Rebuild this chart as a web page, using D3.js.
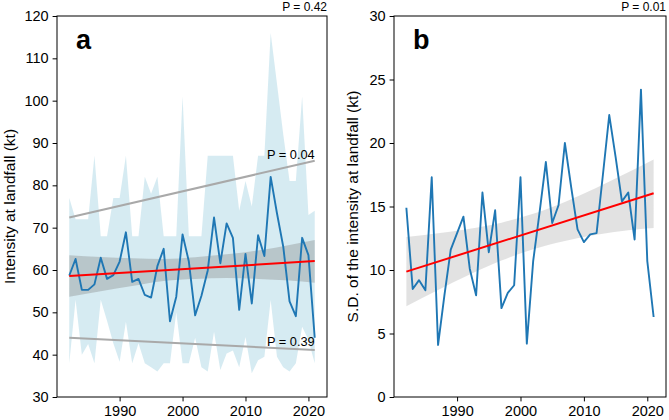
<!DOCTYPE html>
<html>
<head>
<meta charset="utf-8">
<script src="https://cdn.jsdelivr.net/npm/d3@7"></script>
<style>
  body { margin: 0; background: #fff; }
  svg { font-family: "Liberation Sans", Arial, sans-serif; }
  .tick text { font-size: 14.5px; fill: #000; }
  .tick line { stroke: #000; stroke-width: 1; }
</style>
</head>
<body>
<div id="wrapper"></div>
<script>
// 1. Data
const years = [1982, 1983, 1984, 1985, 1986, 1987, 1988, 1989, 1990, 1991,
  1992, 1993, 1994, 1995, 1996, 1997, 1998, 1999, 2000, 2001,
  2002, 2003, 2004, 2005, 2006, 2007, 2008, 2009, 2010, 2011,
  2012, 2013, 2014, 2015, 2016, 2017, 2018, 2019, 2020, 2021]

// panel a: mean intensity at landfall, and the min / max envelope
const meanIntensity = [58.7, 62.6, 55.3, 55.3, 56.6, 62.9, 57.9, 58.8, 62.0, 68.9,
  57.2, 57.9, 54.1, 53.5, 60.9, 65.0, 47.9, 53.7, 68.4, 62.0,
  49.3, 53.9, 59.9, 72.4, 61.6, 71.0, 67.6, 50.6, 63.8, 52.1,
  68.2, 63.3, 82.0, 73.4, 65.5, 52.6, 49.1, 67.6, 63.5, 44.0]
const maxIntensity = [77, 72, 72, 72, 87, 68, 68, 77, 77, 87,
  68, 68, 82, 78, 82, 68, 68, 68, 101, 68,
  68, 68, 87, 87, 87, 87, 87, 74, 81, 75,
  87, 87, 116, 104, 92, 81, 81, 101, 73, 74]
const minIntensity = [38, 53, 40, 42.5, 38, 53, 48, 42.7, 38.3, 47.8,
  38, 42.7, 38, 37, 36, 38, 38, 50, 38, 38,
  44, 37, 36, 45.4, 36.4, 40.3, 41, 37, 44.2, 35.6,
  38.7, 39.5, 52.9, 39.5, 37, 36, 38, 46.6, 43.5, 38]

// panel b: standard deviation of intensity at landfall
const sdIntensity = [14.9, 8.5, 9.2, 8.4, 17.3, 4.1, 8.0, 11.6, 12.9, 14.2,
  10.1, 8.0, 16.1, 11.4, 14.7, 7.0, 8.2, 8.8, 17.3, 4.2,
  10.7, 14.5, 18.5, 13.7, 15.1, 20.0, 16.5, 13.2, 12.2, 12.8,
  12.9, 17.5, 22.2, 18.9, 15.4, 16.1, 12.4, 24.2, 10.7, 6.3]

// trend lines (start, end)
const trendYears = [1982, 2021]
const trendMeanA = [58.6, 62.1]
const trendMaxA = [72.4, 85.8]
const trendMinA = [44.0, 41.1]
const trendSdB = [9.87, 16.04]

// confidence band around the red trend lines
const ciYears = [1982, 1987, 1992, 1997, 2002, 2007, 2012, 2017, 2021]
const ciLowA = [53.7, 55.0, 56.2, 57.4, 57.9, 58.1, 57.9, 57.5, 57.0]
const ciHighA = [63.5, 63.1, 62.8, 62.6, 63.0, 63.7, 64.6, 65.9, 67.1]
const ciLowB = [7.15, 8.43, 9.65, 10.75, 11.64, 12.29, 12.77, 13.13, 13.30]
const ciHighB = [12.59, 12.89, 13.25, 13.73, 14.42, 15.35, 16.47, 17.69, 18.70]

const xTicks = [1990, 2000, 2010, 2020]
const yTicksA = [30, 40, 50, 60, 70, 80, 90, 100, 110, 120]
const yTicksB = [0, 5, 10, 15, 20, 25, 30]

function drawCharts() {
  // 2. Dimensions
  const width = 669
  const height = 420
  const panelA = { left: 57, top: 16, width: 270, height: 381 }
  const panelB = { left: 394, top: 16, width: 272, height: 381 }

  // 3. Canvas
  const svg = d3.select("#wrapper").append("svg")
    .attr("width", width)
    .attr("height", height)

  const xDomain = [1980.05, 2022.95]

  // ---------- panel a ----------
  const boundsA = svg.append("g")
    .attr("transform", `translate(${panelA.left}, ${panelA.top})`)

  const xScaleA = d3.scaleLinear().domain(xDomain).range([0, panelA.width])
  const yScaleA = d3.scaleLinear().domain([30, 120]).range([panelA.height, 0])

  const envelope = d3.area()
    .x((d, i) => xScaleA(years[i]))
    .y0((d, i) => yScaleA(minIntensity[i]))
    .y1((d, i) => yScaleA(maxIntensity[i]))
  boundsA.append("path")
    .attr("d", envelope(years))
    .attr("fill", "#add8e6")
    .attr("fill-opacity", 0.5)

  const trendLineA = d3.line()
    .x((d, i) => xScaleA(trendYears[i]))
    .y(d => yScaleA(d))
  boundsA.append("path")
    .attr("d", trendLineA(trendMaxA))
    .attr("fill", "none")
    .attr("stroke", "#a9a9a9")
    .attr("stroke-width", 2)
  boundsA.append("path")
    .attr("d", trendLineA(trendMinA))
    .attr("fill", "none")
    .attr("stroke", "#a9a9a9")
    .attr("stroke-width", 2)

  const ciAreaA = d3.area()
    .x((d, i) => xScaleA(ciYears[i]))
    .y0((d, i) => yScaleA(ciLowA[i]))
    .y1((d, i) => yScaleA(ciHighA[i]))
    .curve(d3.curveMonotoneX)
  boundsA.append("path")
    .attr("d", ciAreaA(ciYears))
    .attr("fill", "#808080")
    .attr("fill-opacity", 0.35)

  const meanLine = d3.line()
    .x((d, i) => xScaleA(years[i]))
    .y(d => yScaleA(d))
  boundsA.append("path")
    .attr("d", meanLine(meanIntensity))
    .attr("fill", "none")
    .attr("stroke", "#1f77b4")
    .attr("stroke-width", 1.9)
    .attr("stroke-linejoin", "round")

  boundsA.append("path")
    .attr("d", trendLineA(trendMeanA))
    .attr("fill", "none")
    .attr("stroke", "red")
    .attr("stroke-width", 2)

  // P value labels on the gray lines
  boundsA.append("text")
    .attr("x", xScaleA(2021))
    .attr("y", yScaleA(trendMaxA[1]) - 2)
    .attr("text-anchor", "end")
    .style("font-size", "12.8px")
    .text("P = 0.04")
  boundsA.append("text")
    .attr("x", xScaleA(2021))
    .attr("y", yScaleA(trendMinA[1]) - 4)
    .attr("text-anchor", "end")
    .style("font-size", "12.8px")
    .text("P = 0.39")

  drawFrame(boundsA, panelA, xScaleA, yScaleA, yTicksA,
    "Intensity at landfall (kt)", "a", "P = 0.42", 42)

  // ---------- panel b ----------
  const boundsB = svg.append("g")
    .attr("transform", `translate(${panelB.left}, ${panelB.top})`)

  const xScaleB = d3.scaleLinear().domain(xDomain).range([0, panelB.width])
  const yScaleB = d3.scaleLinear().domain([0, 30]).range([panelB.height, 0])

  const ciAreaB = d3.area()
    .x((d, i) => xScaleB(ciYears[i]))
    .y0((d, i) => yScaleB(ciLowB[i]))
    .y1((d, i) => yScaleB(ciHighB[i]))
    .curve(d3.curveMonotoneX)
  boundsB.append("path")
    .attr("d", ciAreaB(ciYears))
    .attr("fill", "#808080")
    .attr("fill-opacity", 0.23)

  const sdLine = d3.line()
    .x((d, i) => xScaleB(years[i]))
    .y(d => yScaleB(d))
  boundsB.append("path")
    .attr("d", sdLine(sdIntensity))
    .attr("fill", "none")
    .attr("stroke", "#1f77b4")
    .attr("stroke-width", 1.9)
    .attr("stroke-linejoin", "round")

  const trendLineB = d3.line()
    .x((d, i) => xScaleB(trendYears[i]))
    .y(d => yScaleB(d))
  boundsB.append("path")
    .attr("d", trendLineB(trendSdB))
    .attr("fill", "none")
    .attr("stroke", "red")
    .attr("stroke-width", 2)

  drawFrame(boundsB, panelB, xScaleB, yScaleB, yTicksB,
    "S.D. of the intensity at landfall (kt)", "b", "P = 0.01", 36)
}

// 4. Peripherals: spines, axes, labels
function drawFrame(bounds, panel, xScale, yScale, yTicks, yLabel, letter, pText, labelOffset) {
  const xAxisGenerator = d3.axisBottom(xScale)
    .tickValues(xTicks)
    .tickFormat(d3.format("d"))
    .tickSizeInner(4.4)
    .tickSizeOuter(0)
    .tickPadding(4)
  const xAxis = bounds.append("g")
    .attr("transform", `translate(0, ${panel.height})`)
    .call(xAxisGenerator)
  xAxis.select(".domain").remove()

  const yAxisGenerator = d3.axisLeft(yScale)
    .tickValues(yTicks)
    .tickSizeInner(4.4)
    .tickSizeOuter(0)
    .tickPadding(4)
  const yAxis = bounds.append("g")
    .call(yAxisGenerator)
  yAxis.select(".domain").remove()
  bounds.selectAll(".tick text").style("font-family", "'Liberation Sans', Arial, sans-serif")

  bounds.append("rect")
    .attr("x", 0)
    .attr("y", 0)
    .attr("width", panel.width)
    .attr("height", panel.height)
    .attr("fill", "none")
    .attr("stroke", "#000")
    .attr("stroke-width", 1)

  bounds.append("text")
    .attr("transform", `translate(${-labelOffset}, ${panel.height / 2}) rotate(-90)`)
    .attr("text-anchor", "middle")
    .style("font-size", "15.5px")
    .text(yLabel)

  bounds.append("text")
    .attr("x", 19)
    .attr("y", 33)
    .style("font-size", "27px")
    .style("font-weight", "bold")
    .text(letter)

  bounds.append("text")
    .attr("x", panel.width)
    .attr("y", -5)
    .attr("text-anchor", "end")
    .style("font-size", "12px")
    .text(pText)
}

drawCharts()
</script>
</body>
</html>
